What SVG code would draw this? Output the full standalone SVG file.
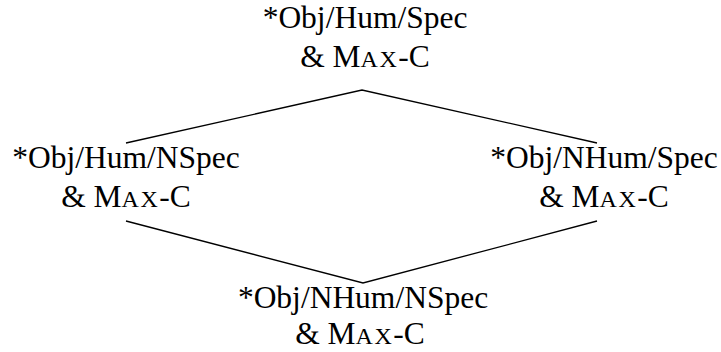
<svg xmlns="http://www.w3.org/2000/svg" width="721" height="352" viewBox="0 0 721 352">
<style>
text{font-family:"Liberation Serif","Times New Roman",serif;font-size:31.5px;fill:#000;text-anchor:middle}
.sc{font-size:24px;letter-spacing:1.5px}
.edge{stroke:#000;stroke-width:1.3;fill:none}
</style>
<rect width="721" height="352" fill="#fff"/>
<g id="connectors">
<path class="edge" d="M126,143 L362,90 L597,143"/>
<path class="edge" d="M126,221 L363,283 L597,221"/>
</g>
<g id="top">
<text x="365" y="28">*Obj/Hum/Spec</text>
<text x="365" y="67">&amp; M<tspan class="sc">AX</tspan>-C</text>
</g>
<g id="left">
<text x="126" y="168">*Obj/Hum/NSpec</text>
<text x="126" y="207">&amp; M<tspan class="sc">AX</tspan>-C</text>
</g>
<g id="right">
<text x="604" y="168">*Obj/NHum/Spec</text>
<text x="604" y="207">&amp; M<tspan class="sc">AX</tspan>-C</text>
</g>
<g id="bottom">
<text x="363" y="308">*Obj/NHum/NSpec</text>
<text x="360" y="344">&amp; M<tspan class="sc">AX</tspan>-C</text>
</g>
</svg>
